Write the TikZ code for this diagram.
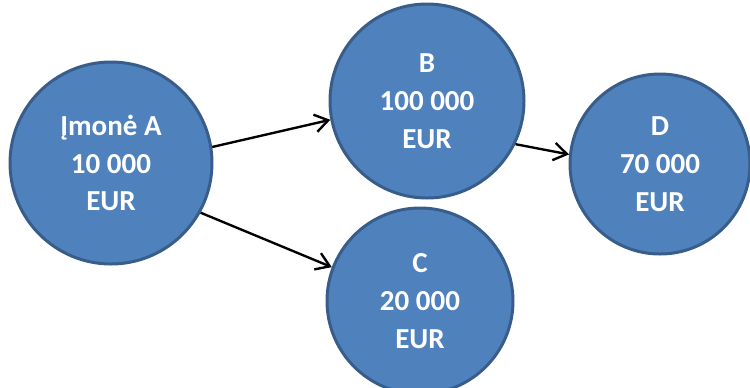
\documentclass[tikz,border=0pt]{standalone}
\usepackage{fontspec}
\setmainfont{Carlito}
\usetikzlibrary{arrows.meta}
\definecolor{ballfill}{RGB}{79,129,189}
\definecolor{ballline}{RGB}{56,93,138}
\tikzset{
	firm/.style={circle,fill=ballfill,draw=ballline,line width=1.7pt,inner sep=0pt,
		text=white,align=center,font=\bfseries\fontsize{16.5}{21.5}\selectfont},
	flow/.style={line width=1.35pt,-{Straight Barb[length=7.5pt,width=10pt,line width=1.35pt]}}
}
\begin{document}
\begin{tikzpicture}[x=0.02cm,y=-0.02cm]
		\useasboundingbox (0,0) rectangle (750,387);
		\begin{scope}
		\clip (0,0) rectangle (750,387);
		\node [firm,minimum size=202*0.02cm] (A) at (111,163) {Įmonė A\\10 000\\EUR};
		\node [firm,minimum size=194*0.02cm] (B) at (427,101) {B\\100 000\\EUR};
		\node [firm,minimum size=186*0.02cm] (C) at (420,301) {C\\20 000\\EUR};
		\node [firm,minimum size=180*0.02cm] (D) at (660,164) {D\\70 000\\EUR};
		\end{scope}
		\draw [flow] (A.9)--(B.191);
		\draw [flow] (A.-29)--(C.159);
		\draw [flow] (B.-26)--(D.174);
		\end{tikzpicture}
\end{document}
